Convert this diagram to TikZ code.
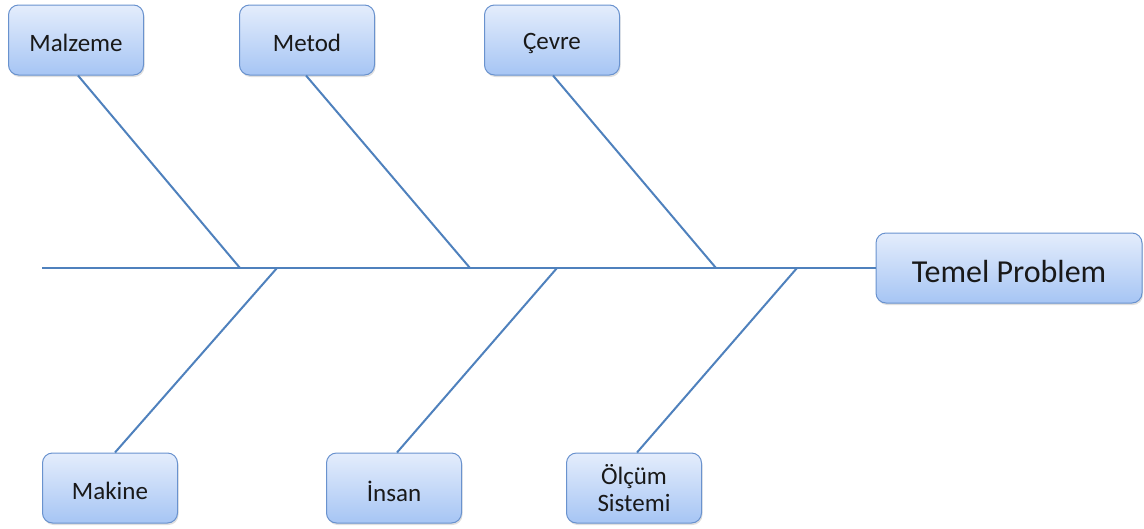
\documentclass[tikz,border=0pt]{standalone}
\usepackage{fontspec}
\setmainfont{Carlito}
\usetikzlibrary{shadows}
\definecolor{bone}{RGB}{79,129,189}
\definecolor{boxtop}{RGB}{228,237,252}
\definecolor{boxbot}{RGB}{166,197,244}
\definecolor{boxline}{RGB}{105,146,206}
\newcommand\lowered[2]{\raisebox{-#1}[\height][\depth]{#2}}
\begin{document}
\begin{tikzpicture}[x=1pt,y=-1pt,
  causebox/.style={draw=boxline, line width=1pt, rounded corners=10pt,
    top color=boxtop, bottom color=boxbot,
    drop shadow={opacity=0.25, shadow xshift=1pt, shadow yshift=-2pt},
    minimum width=135pt, minimum height=70pt, inner sep=2pt,
    font=\fontsize{25}{27}\selectfont, text=black!90, align=center},
  headbox/.style={causebox, minimum width=266pt, font=\fontsize{32}{34}\selectfont},
  boneline/.style={draw=bone, line width=2pt}]
\useasboundingbox (0,0) rectangle (1144,528);
% nodes
\node[causebox] (malzeme) at (76,40) {\lowered{3pt}{Malzeme}};
\node[causebox] (metod) at (307,40) {\lowered{3pt}{Metod}};
\node[causebox] (cevre) at (552,40) {\lowered{3pt}{Çevre}};
\node[headbox] (temel) at (1009,268) {\lowered{3pt}{Temel Problem}};
\node[causebox] (makine) at (110,488) {\lowered{3pt}{Makine}};
\node[causebox] (insan) at (394,488) {\lowered{3pt}{İnsan}};
\node[causebox] (olcum) at (634,488) {\lowered{4pt}{\begin{tabular}{@{}c@{}}Ölçüm\\Sistemi\end{tabular}}};
% spine points
\coordinate (tail) at (42,268);
\coordinate (p1) at (240,268);
\coordinate (p2) at (470,268);
\coordinate (p3) at (716,268);
\coordinate (q1) at (277,268);
\coordinate (q2) at (557,268);
\coordinate (q3) at (797,268);
% bones
\draw[boneline] (tail) -- (temel.west);
\draw[boneline] ([xshift=2pt]malzeme.south) -- (p1);
\draw[boneline] ([xshift=-1pt]metod.south) -- (p2);
\draw[boneline] ([xshift=1pt]cevre.south) -- (p3);
\draw[boneline] ([xshift=5pt]makine.north) -- (q1);
\draw[boneline] ([xshift=3pt]insan.north) -- (q2);
\draw[boneline] ([xshift=3pt]olcum.north) -- (q3);
\end{tikzpicture}
\end{document}
